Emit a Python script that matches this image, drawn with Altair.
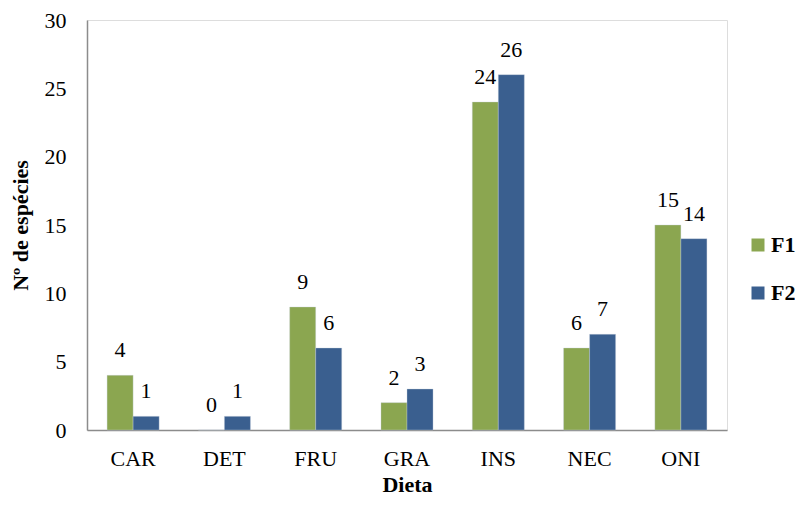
import altair as alt
import pandas as pd

categories = ["CAR", "DET", "FRU", "GRA", "INS", "NEC", "ONI"]
f1_values = [4, 0, 9, 2, 24, 6, 15]
f2_values = [1, 1, 6, 3, 26, 7, 14]
series = ["F1", "F2"]
colors = ["#8BA650", "#3A5F8F"]

rows = []
for c, a, b in zip(categories, f1_values, f2_values):
    rows.append({"Dieta": c, "Serie": "F1", "Valor": a})
    rows.append({"Dieta": c, "Serie": "F2", "Valor": b})
df = pd.DataFrame(rows)

font = "Liberation Serif"
fs = 22

x = alt.X("Dieta:N", sort=categories, title="Dieta",
          scale=alt.Scale(paddingInner=0.43, paddingOuter=0.22),
          axis=alt.Axis(labelAngle=0, labelFontSize=fs, labelFont=font, labelColor="black",
                        titleFontSize=fs, titleFont=font, titleFontWeight="bold", titleColor="black",
                        labelPadding=18, titlePadding=5, ticks=False, domainColor="#8c8c8c",
                        domainWidth=1.5))
y = alt.Y("Valor:Q", title="Nº de espécies",
          scale=alt.Scale(domain=[0, 30]),
          axis=alt.Axis(values=[0, 5, 10, 15, 20, 25, 30], grid=False, ticks=False,
                        labelFontSize=fs, labelFont=font, labelColor="black", labelPadding=21,
                        titleFontSize=fs, titleFont=font, titleFontWeight="bold", titleColor="black",
                        titlePadding=12, domainColor="#8c8c8c", domainWidth=1.5))

color = alt.Color("Serie:N", scale=alt.Scale(domain=series, range=colors),
                  legend=alt.Legend(title=None, orient="none", legendX=660, legendY=214,
                                    symbolType="square", symbolSize=169, symbolStrokeWidth=0,
                                    labelFontSize=fs, labelFont=font, labelFontWeight="bold",
                                    labelColor="black", rowPadding=26, labelOffset=2))

bars = alt.Chart(df).mark_bar(stroke="#c8d0dc", strokeWidth=0.6, strokeOpacity=0.6).encode(
    x=x, y=y, xOffset=alt.XOffset("Serie:N", sort=series), color=color
)

labels = alt.Chart(df).mark_text(baseline="middle", dy=-25, fontSize=fs, font=font, color="black").encode(
    x=alt.X("Dieta:N", sort=categories), y="Valor:Q",
    xOffset=alt.XOffset("Serie:N", sort=series), text="Valor:Q"
)

chart = (bars + labels).properties(
    width=640, height=410,
    autosize=alt.AutoSizeParams(type="none"),
    padding={"left": 79, "top": 12, "right": 68, "bottom": 67},
).configure_view(stroke=None).configure(background="white")

chart.save("out.html", embed_options={"renderer": "svg", "actions": False})
